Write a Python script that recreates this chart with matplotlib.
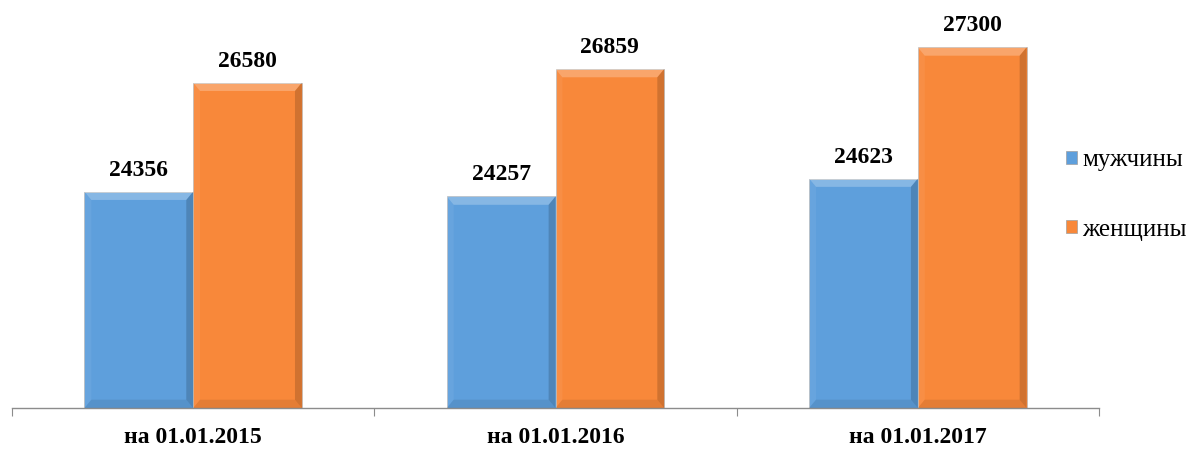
import matplotlib
matplotlib.use("Agg")
import matplotlib.pyplot as plt
from matplotlib.patches import Polygon, Patch
import numpy as np

categories = ["на 01.01.2015", "на 01.01.2016", "на 01.01.2017"]
series_names = ["мужчины", "женщины"]
men = [24356, 24257, 24623]
women = [26580, 26859, 27300]
colors = ["#5E9FDC", "#F8883A"]

plt.rcParams['font.family'] = ['Liberation Serif', 'DejaVu Serif']

fig = plt.figure(figsize=(11.95, 4.5), dpi=100)
ax = fig.add_axes([12/1195, 42/450, (1099-12)/1195, (408-16)/450])

x = np.arange(len(categories))
w = 0.30
ymin, ymax = 19940, 27940
ax.set_ylim(ymin, ymax)
ax.set_xlim(-0.5, len(categories) - 0.5)

bx = 0.019  # bevel in x (data units)
by = 170    # bevel in y (data units)

for i, (vals, col) in enumerate(zip([men, women], colors)):
    offs = -w/2 if i == 0 else w/2
    bars = ax.bar(x + offs, vals, bottom=0, width=w, color=col, edgecolor="#b8b8b8",
                  linewidth=0.5, zorder=2)
    for b, v in zip(bars, vals):
        x0, x1 = b.get_x(), b.get_x() + b.get_width()
        y0, y1 = ymin, b.get_height()
        ax.add_patch(Polygon([(x0, y1), (x1, y1), (x1 - bx, y1 - by), (x0 + bx, y1 - by)],
                             closed=True, facecolor="white", alpha=0.25, lw=0, zorder=3))
        ax.add_patch(Polygon([(x0, y0), (x0, y1), (x0 + bx, y1 - by), (x0 + bx, y0 + by)],
                             closed=True, facecolor="white", alpha=0.06, lw=0, zorder=3))
        ax.add_patch(Polygon([(x1, y0), (x1, y1), (x1 - bx, y1 - by), (x1 - bx, y0 + by)],
                             closed=True, facecolor="black", alpha=0.16, lw=0, zorder=3))
        ax.add_patch(Polygon([(x0, y0), (x1, y0), (x1 - bx, y0 + by), (x0 + bx, y0 + by)],
                             closed=True, facecolor="black", alpha=0.08, lw=0, zorder=3))
        ax.annotate(f"{v}", xy=(b.get_x() + b.get_width()/2, v), xytext=(0, 11.5),
                    textcoords="offset points", ha="center", va="baseline",
                    fontsize=17, fontweight="bold", color="black")

for s in ["top", "right", "left"]:
    ax.spines[s].set_visible(False)
ax.spines["bottom"].set_color("#8c8c8c")
ax.spines["bottom"].set_linewidth(1.0)
ax.set_yticks([])

ax.set_xticks(np.arange(-0.5, len(categories), 1.0))
ax.tick_params(axis="x", which="major", length=6, color="#8c8c8c", labelbottom=False)
ax.set_xticks(x, minor=True)
ax.set_xticklabels(categories, minor=True, fontsize=17, fontweight="bold")
ax.tick_params(axis="x", which="minor", length=0, pad=14)

handles = [Patch(facecolor=c, edgecolor="#a0a0a0", linewidth=0.5) for c in colors]
fig.legend(handles, series_names, loc="center left", bbox_to_anchor=(1066/1195, 1 - 195/450),
           frameon=False, fontsize=18, handlelength=0.42, handleheight=0.42,
           handletextpad=0.22, labelspacing=1.9, borderaxespad=0, borderpad=0)

fig.savefig("out.png", dpi=100)
